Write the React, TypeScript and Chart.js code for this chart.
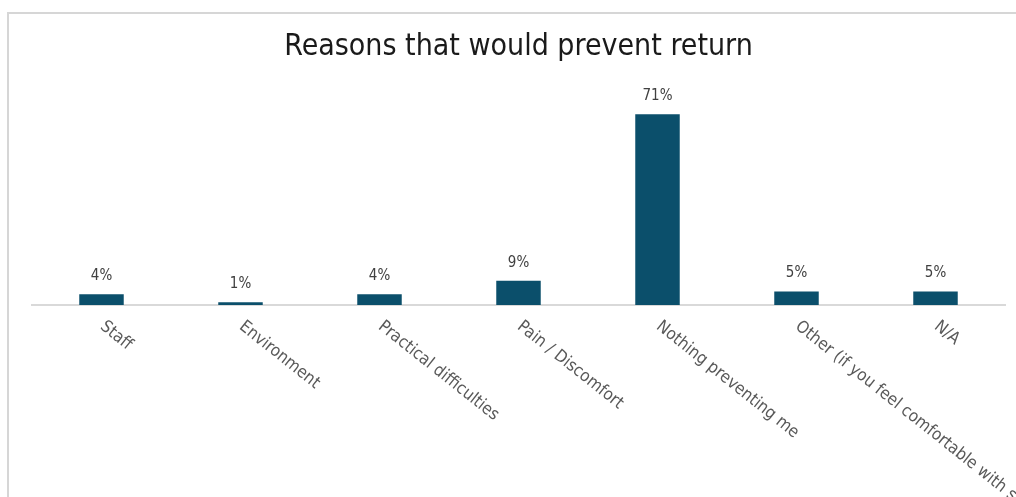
import React, { useEffect, useRef } from "react";
import { Chart, registerables } from "chart.js";

Chart.register(...registerables);

const TITLE = "Reasons that would prevent return";
const categories = [
  "Staff",
  "Environment",
  "Practical difficulties",
  "Pain / Discomfort",
  "Nothing preventing me",
  "Other (if you feel comfortable with sharing)",
  "N/A",
];
const values = [4, 1, 4, 9, 71, 5, 5];
const valueLabels = ["4%", "1%", "4%", "9%", "71%", "5%", "5%"];

const BAR_COLOR = "#0B4F6B";
const LABEL_FONT = '"DejaVu Sans Condensed", "DejaVu Sans", sans-serif';

const framePlugin = {
  id: "frame",
  beforeDraw(chart: any) {
    const { ctx, width, height } = chart;
    ctx.save();
    ctx.fillStyle = "#ffffff";
    ctx.fillRect(0, 0, width, height);
    ctx.strokeStyle = "#d6d6d6";
    ctx.lineWidth = 2;
    ctx.beginPath();
    ctx.moveTo(8, height);
    ctx.lineTo(8, 13);
    ctx.lineTo(width, 13);
    ctx.stroke();
    ctx.restore();
  },
};

const labelsPlugin = {
  id: "customLabels",
  afterDatasetsDraw(chart: any) {
    const { ctx } = chart;
    const xScale = chart.scales.x;
    const meta = chart.getDatasetMeta(0);
    ctx.save();
    // value labels
    ctx.font = `15px ${LABEL_FONT}`;
    ctx.fillStyle = "#404040";
    ctx.textAlign = "center";
    ctx.textBaseline = "middle";
    meta.data.forEach((bar: any, i: number) => {
      ctx.fillText(valueLabels[i], bar.x, bar.y - 18);
    });
    // rotated category labels
    const baseY = chart.chartArea.bottom;
    ctx.font = `17px ${LABEL_FONT}`;
    ctx.fillStyle = "#595959";
    ctx.textAlign = "left";
    ctx.textBaseline = "top";
    categories.forEach((c, i) => {
      const x = xScale.getPixelForValue(i);
      ctx.save();
      ctx.translate(x + 6, baseY + 13);
      ctx.rotate((38.5 * Math.PI) / 180);
      ctx.fillText(c, 0, 0);
      ctx.restore();
    });
    ctx.restore();
  },
};

export default function App() {
  const ref = useRef<HTMLCanvasElement>(null);
  useEffect(() => {
    const canvas = ref.current!;
    const chart = new Chart(canvas, {
      type: "bar",
      data: {
        labels: categories,
        datasets: [
          {
            data: values,
            backgroundColor: BAR_COLOR,
            barPercentage: 0.32,
            categoryPercentage: 1,
          },
        ],
      },
      options: {
        responsive: false,
        animation: false,
        devicePixelRatio: 1,
        layout: { padding: { left: 32, right: 11, top: 0, bottom: 192 } },
        plugins: {
          legend: { display: false },
          tooltip: { enabled: false },
          title: {
            display: true,
            text: TITLE,
            color: "#1a1a1a",
            font: { family: LABEL_FONT, size: 30, weight: "normal", lineHeight: 1.2 },
            padding: { top: 29, bottom: 25 },
          },
        },
        scales: {
          x: {
            grid: { display: false, drawTicks: false },
            ticks: { display: false },
            border: { display: true, color: "#d9d9d9", width: 2 },
          },
          y: {
            display: false,
            min: 0,
            max: 80,
          },
        },
      },
      plugins: [framePlugin, labelsPlugin],
    });
    return () => chart.destroy();
  }, []);
  return (
    <div style={{ position: "fixed", left: 0, top: 0, width: 1016, height: 497 }}>
      <canvas ref={ref} width={1016} height={497} style={{ display: "block" }} />
    </div>
  );
}
